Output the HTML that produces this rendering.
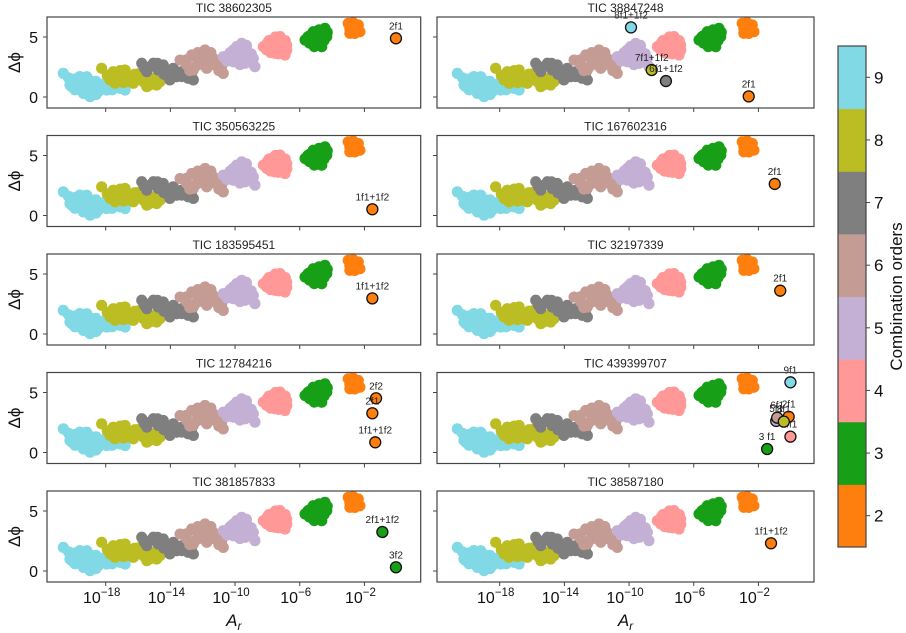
<!DOCTYPE html>
<html><head><meta charset="utf-8"><style>
body{margin:0;background:#fff;}
svg{display:block;font-family:"Liberation Sans","DejaVu Sans",sans-serif;}
</style></head><body>
<svg id="fig" width="906" height="633" viewBox="0 0 906 633" xmlns="http://www.w3.org/2000/svg"></svg>
<script>
// ---- data ----
const orders = [9,8,7,6,5,4,3,2];
const orderColors = {2:"#ff7f0e",3:"#17a017",4:"#ff9896",5:"#c5b0d5",6:"#c49c94",7:"#7f7f7f",8:"#bcbd22",9:"#82d9e6"};
const logA9 = [-20.62,-19.79,-19.17,-19.07,-19.59,-20.1,-19.38,-18.97,-18.46,-18.04,-17.94,-17.1,-16.8,-17.22,-19.79,-20.21,-19.38,-18.77,-19.4,-18.6,-18.9,-19.9,-20.3,-19.6,-19.0,-18.3,-17.6,-19.9,-18.6];
const dphi9 = [1.97,1.42,1.69,1.0,0.72,0.86,0.3,0.03,0.44,1.14,0.58,0.72,0.58,1.0,1.14,1.0,1.28,0.58,0.9,0.2,1.3,1.5,1.6,1.7,0.5,0.9,0.6,0.6,1.3];
const logA8 = [-18.25,-17.53,-16.8,-17.73,-17.22,-16.5,-15.88,-15.67,-15.05,-14.85,-14.64,-16.29,-15.46,-17.42,-17.0,-16.0,-15.2,-16.6,-17.9,-16.9,-16.2,-15.5,-15.3,-17.1,-16.6];
const dphi8 = [2.39,2.11,2.25,1.42,1.56,1.69,1.97,1.28,1.56,1.0,1.28,1.14,0.86,1.14,1.9,1.5,1.2,1.3,1.8,1.2,1.9,1.7,1.0,2.2,1.6];
const logA7 = [-15.77,-15.05,-14.44,-15.46,-14.75,-13.82,-13.3,-13.61,-12.9,-14.23,-12.99,-12.58,-14.03,-15.3,-14.6,-13.5,-14.0,-15.6,-14.8,-13.9,-13.3,-12.7,-14.4];
const dphi7 = [2.81,2.81,2.67,2.11,2.25,2.39,2.11,1.69,1.56,1.83,1.83,1.42,1.42,2.5,2.5,2.0,2.1,2.4,2.8,2.0,1.7,1.9,1.9];
const logA6 = [-13.4,-12.68,-11.86,-12.17,-11.35,-10.83,-10.73,-11.75,-12.58,-12.99,-11.14,-12.4,-11.6,-12.0,-11.0,-13.0,-12.3,-11.7,-11.3,-11.0,-12.4,-12.8,-11.5];
const dphi6 = [3.08,3.5,3.92,3.08,3.22,2.53,1.97,2.39,2.25,2.67,2.81,3.3,3.5,2.7,2.4,3.1,3.7,3.3,2.7,2.2,2.6,2.2,3.7];
const logA5 = [-10.73,-10.11,-9.59,-9.28,-8.87,-8.77,-9.38,-10.11,-9.69,-10.4,-9.0,-9.6,-10.0,-9.3,-10.5,-9.9,-9.3,-9.0,-9.7,-10.3,-9.5];
const dphi5 = [3.36,3.92,4.47,3.92,3.22,2.53,2.81,2.94,3.36,3.5,3.6,3.9,3.3,3.3,3.0,4.2,4.3,2.9,2.7,3.7,3.0];
const logA4 = [-8.25,-7.73,-7.22,-6.81,-6.91,-7.53,-8.04,-7.2,-7.6,-7.0,-8.0,-7.9,-7.4,-6.9,-7.3,-7.8,-6.8,-7.5];
const dphi4 = [4.19,4.75,5.03,4.33,3.5,3.64,3.92,4.2,4.2,3.9,4.5,4.7,4.6,4.7,3.6,3.7,3.9,5.0];
const logA3 = [-5.67,-5.16,-4.44,-4.33,-4.64,-5.26,-4.9,-5.0,-4.6,-5.4,-5.4,-5.5,-4.8,-4.5,-4.8,-5.1,-4.3];
const dphi3 = [4.75,5.44,5.72,5.03,4.19,4.47,5.0,4.6,5.4,5.1,4.5,5.0,5.6,4.7,4.3,4.2,5.4];
const logA2 = [-3.0,-2.38,-2.9,-2.28,-2.65,-2.6,-2.7,-2.4,-2.9,-2.6];
const dphi2 = [6.14,6.0,5.31,5.44,5.8,5.5,6.2,5.7,5.7,5.3];
const clusterLogA = {9:logA9,8:logA8,7:logA7,6:logA6,5:logA5,4:logA4,3:logA3,2:logA2};
const clusterDphi = {9:dphi9,8:dphi8,7:dphi7,6:dphi6,5:dphi5,4:dphi4,3:dphi3,2:dphi2};

const panelTitles = ["TIC 38602305","TIC 38847248","TIC 350563225","TIC 167602316","TIC 183595451","TIC 32197339","TIC 12784216","TIC 439399707","TIC 381857833","TIC 38587180"];
// special points per panel: [label, logA, dphi, order]
const specialLabels = [["2f1"],["8f1+1f2","7f1+1f2","6f1+1f2","2f1"],["1f1+1f2"],["2f1"],["1f1+1f2"],["2f1"],["2f2","2f1","1f1+1f2"],["9f1","4f1","5f1","6f1","2f1","8f1","3 f1"],["2f1+1f2","3f2"],["1f1+1f2"]];
const specialLogA = [[-0.05],[-9.88,-8.6,-7.72,-2.6],[-1.51],[-0.99],[-1.51],[-0.65],[-1.28,-1.51,-1.33],[-0.02,-0.02,-0.9,-0.84,-0.13,-0.43,-1.46],[-0.89,-0.05],[-1.22]];
const specialDphi = [[4.89],[5.8,2.25,1.33,0.05],[0.52],[2.63],[2.97],[3.61],[4.52,3.27,0.85],[5.85,1.32,2.63,2.9,2.98,2.57,0.29],[3.25,0.31],[2.31]];
const specialOrder = [[2],[9,8,7,2],[2],[2],[2],[2],[2,2,2],[9,4,5,6,2,8,3],[3,3],[2]];
const xTickExps = [-18,-14,-10,-6,-2];
const yTicks = [0,5];
const cbarTicks = [2,3,4,5,6,7,8,9];

// ---- drawing ----
const NS="http://www.w3.org/2000/svg";
const svg=document.getElementById('fig');
function mk(tag,attrs,parent){const e=document.createElementNS(NS,tag);for(const k in attrs)e.setAttribute(k,attrs[k]);(parent||svg).appendChild(e);return e;}
const PW=[373.7,377], PX=[47,437], XOFF=[0,394];
function xs(col,logA){return 47+XOFF[col]+(logA+21.63)*16.17;}
function ys(top,d){return top+80-d*12;}
const defs=mk('defs',{});
for(let i=0;i<10;i++){
  const col=i%2,row=Math.floor(i/2);
  const top=17+row*118.5, left=PX[col], w=PW[col], h=91;
  const g=mk('g',{});
  
  
  const cp=mk('clipPath',{id:'cp'+i},defs);
  mk('rect',{x:left,y:top,width:w,height:h},cp);
  const t=mk('text',{x:left+w/2,y:top-5,'text-anchor':'middle','font-size':12,fill:'#222'},g);
  t.textContent=panelTitles[i];
  
  
  const pts=mk('g',{'clip-path':'url(#cp'+i+')'},g);
  
  
  for(const o of orders){
    const la=clusterLogA[o], dp=clusterDphi[o];
    for(let k=0;k<la.length;k++){
      const c=mk('circle',{cx:xs(col,la[k]),cy:ys(top,dp[k]),r:5.6,fill:orderColors[o]},pts);
      
      
    }
  }
  const sl=specialLabels[i], sa=specialLogA[i], sd=specialDphi[i], so=specialOrder[i];
  for(let k=0;k<sl.length;k++){
    const cx=xs(col,sa[k]), cy=ys(top,sd[k]);
    const c=mk('circle',{cx:cx,cy:cy,r:5.5,fill:orderColors[so[k]],stroke:'#111','stroke-width':1.3},g);
    
    
    const lt=mk('text',{x:cx,y:cy-9,'text-anchor':'middle','font-size':10,fill:'#222'},g);
    lt.textContent=sl[k];
    
    
  }
  const fr=mk('rect',{x:left,y:top,width:w,height:h,fill:'none',stroke:'#444','stroke-width':1.2},g);
  
  
  for(const e of xTickExps){
    const x=xs(col,e);
    mk('line',{x1:x,x2:x,y1:top+h,y2:top+h+4,stroke:'#444','stroke-width':1},g);
    if(row===4){
      const tt=mk('text',{x:x-4,y:603,'text-anchor':'middle','font-size':16,fill:'#111'},g);
      tt.textContent='10';
      const ts=mk('tspan',{dy:-7,'font-size':11.5},tt);ts.textContent='\u2212'+(-e);
      
      
    }
  }
  for(const v of yTicks){
    const y=ys(top,v);
    mk('line',{x1:left-4,x2:left,y1:y,y2:y,stroke:'#444','stroke-width':1},g);
    if(col===0){
      const yt=mk('text',{x:38,y:y+6,'text-anchor':'end','font-size':16,fill:'#111'},g);
      yt.textContent=v;
      
      
    }
  }
  if(col===0){
    const yl=mk('text',{x:0,y:0,transform:'translate(20,'+(top+h/2)+') rotate(-90)','text-anchor':'middle','font-size':17,fill:'#111'},g);
    yl.textContent='\u0394\u03d5';
    
    
  }
  if(row===4){
    const xl=mk('text',{x:left+w/2,y:626,'text-anchor':'middle','font-size':17,'font-style':'italic',fill:'#111'},g);
    xl.textContent='A';
    const s=mk('tspan',{dy:4,'font-size':12},xl);s.textContent='r';
    
    
  }
}
// colorbar
const cb=mk('g',{});


const cbTop=46, cbBot=547, cbX=838, cbW=28, seg=(cbBot-cbTop)/cbarTicks.length;
cbarTicks.forEach((o,k)=>{
  const y=cbBot-(k+1)*seg;
  const r=mk('rect',{x:cbX,y:y,width:cbW,height:seg+0.5,fill:orderColors[o]},cb);
  
  
  const yc=y+seg/2;
  mk('line',{x1:cbX+cbW,x2:cbX+cbW+4,y1:yc,y2:yc,stroke:'#444'},cb);
  const t=mk('text',{x:cbX+cbW+8,y:yc+6,'font-size':17,fill:'#111'},cb);
  t.textContent=o;
  
  
});
mk('rect',{x:cbX,y:cbTop,width:cbW,height:cbBot-cbTop,fill:'none',stroke:'#444','stroke-width':1.2},cb);
const cl=mk('text',{x:0,y:0,transform:'translate(902,'+((cbTop+cbBot)/2)+') rotate(-90)','text-anchor':'middle','font-size':17,fill:'#111'},cb);
cl.textContent='Combination orders';


</script>
</body></html>
